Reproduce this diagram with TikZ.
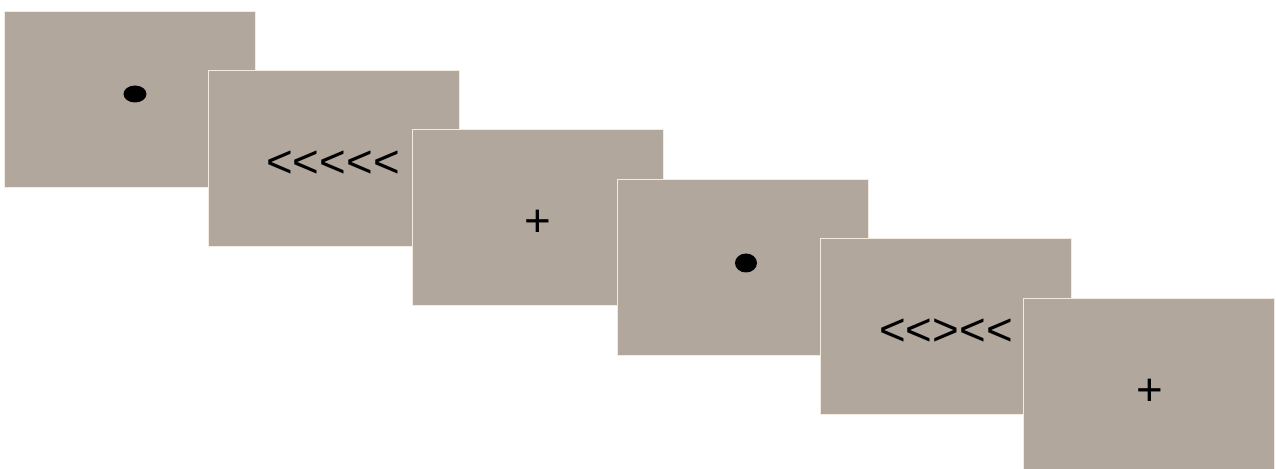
\documentclass[tikz,border=0pt]{standalone}
\usepackage{fontspec}
\setmainfont{Liberation Sans}
\usetikzlibrary{shapes.geometric}
\definecolor{screenfill}{HTML}{B1A79D}
\definecolor{screenedge}{HTML}{F3EAE0}
\begin{document}
\begin{tikzpicture}[x=0.02cm,y=-0.02cm,
  screen/.style={rectangle,fill=screenfill,draw=screenedge,line width=0.6pt,
    minimum width=5.02cm,minimum height=3.52cm,inner sep=0pt,anchor=north west},
  stim/.style={inner sep=0pt,font=\fontsize{26}{26}\selectfont,text=black},
  dotmark/.style={ellipse,fill=black,inner sep=0pt}]
\useasboundingbox[fill=white] (0,0) rectangle (1276,469);
\node[screen] (s1) at (4,11) {};
\node[dotmark,minimum width=0.46cm,minimum height=0.34cm] (d1) at (135,94) {};
\node[screen] (s2) at (208,70) {};
\node[stim] (f1) at (333,164) {<{}<{}<{}<{}<};
\node[screen] (s3) at (412,129) {};
\node[stim] (p1) at (538,223) {+};
\node[screen] (s4) at (617,179) {};
\node[dotmark,minimum width=0.44cm,minimum height=0.38cm] (d2) at (746,263) {};
\node[screen] (s5) at (820,238) {};
\node[stim] (f2) at (946,332) {<{}<{}>{}<{}<};
\node[screen] (s6) at (1023,298) {};
\node[stim] (p2) at (1150,392) {+};
\end{tikzpicture}
\end{document}
